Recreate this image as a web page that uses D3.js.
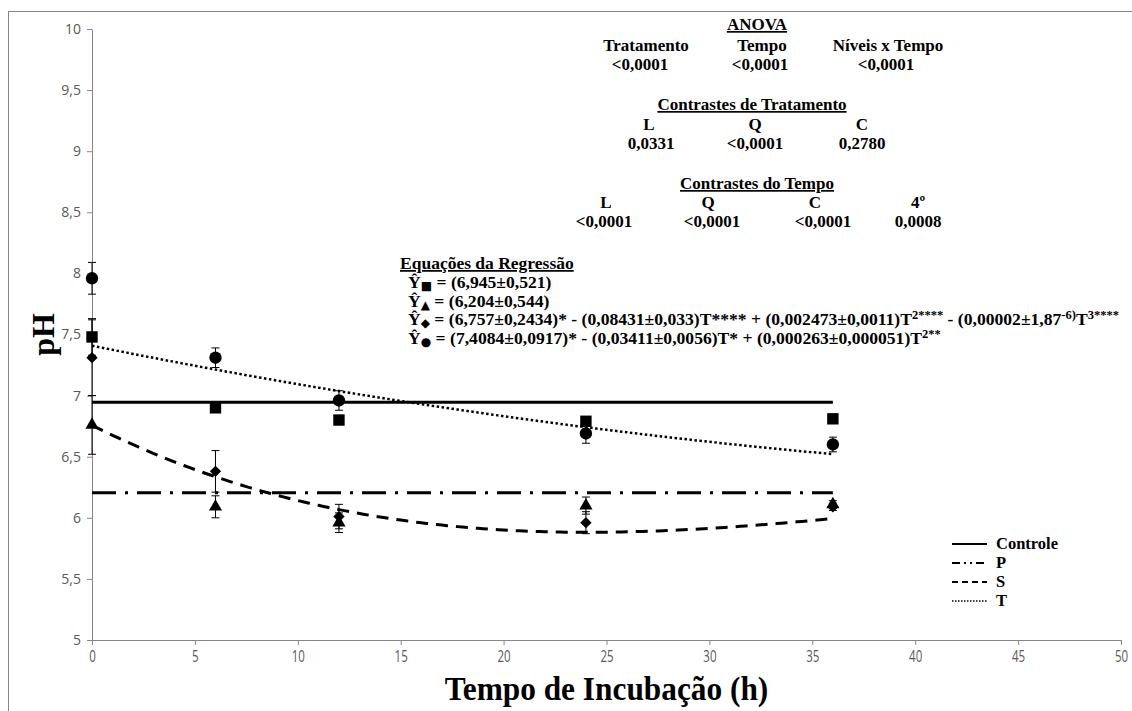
<!DOCTYPE html>
<html>
<head>
<meta charset="utf-8">
<script src="https://cdn.jsdelivr.net/npm/d3@7"></script>
<style>
  body { margin: 0; background: #fff; }
  svg { display: block; }
  .tick text { font-family: "Open Sans", sans-serif; fill: #595959; }
  .tick line, .domain { stroke: #868686; }
  .bold { font-family: "Liberation Serif", "Times New Roman", serif; font-weight: bold; fill: #000; }
</style>
</head>
<body>
<svg id="chart" width="1132" height="711"></svg>
<script>
'use strict';

// sampling times (h)
const tempo = [0, 6, 12, 24, 36];

// means and error bars
const controle = [7.48, 6.90, 6.80, 6.79, 6.81];
const controleErr = [0.15, 0.02, 0.02, 0.02, 0.02];
const tratP = [6.76, 6.09, 5.96, 6.10, 6.11];
const tratPErr = [0.24, 0.09, 0.08, 0.07, 0.03];
const tratS = [7.31, 6.38, 6.01, 5.96, 6.09];
const tratSErr = [0.31, 0.17, 0.10, 0.09, 0.03];
const tratT = [7.96, 7.31, 6.96, 6.69, 6.60];
const tratTErr = [0.13, 0.08, 0.08, 0.08, 0.06];

// regression coefficients printed on the chart (b0, b1, b2, b3)
const coefControle = [6.945];
const coefP = [6.204];
const coefS = [6.757, -0.08431, 0.002473, -0.00002];
const coefT = [7.4084, -0.03411, 0.000263];

const xTicks = [0, 5, 10, 15, 20, 25, 30, 35, 40, 45, 50];
const yTicks = [5, 5.5, 6, 6.5, 7, 7.5, 8, 8.5, 9, 9.5, 10];
const legendLabels = ['Controle', 'P', 'S', 'T'];

const svg = d3.select('#chart');
const x = d3.scaleLinear().domain([0, 50]).range([92, 1121]);
const y = d3.scaleLinear().domain([5, 10]).range([640, 29]);
const fmt = d3.formatLocale({decimal: ',', thousands: '.', grouping: [3], currency: ['', '']}).format(',.1~f');

// chart area frame
svg.append('rect')
  .attr('x', 8.5).attr('y', 11.5)
  .attr('width', 1200).attr('height', 800)
  .attr('fill', 'none').attr('stroke', '#868686');

// axes
svg.append('g')
  .attr('transform', 'translate(' + x(0) + ',0)')
  .call(d3.axisLeft(y).tickValues(yTicks).tickFormat(fmt).tickSize(5).tickSizeOuter(0))
  .call(g => g.selectAll('.tick text').attr('x', -11).style('font-size', '14px'));
svg.append('g')
  .attr('transform', 'translate(0,' + y(5) + ')')
  .call(d3.axisBottom(x).tickValues(xTicks).tickSize(5).tickSizeOuter(0))
  .call(g => g.selectAll('.tick text').attr('y', 11).style('font-size', '16px')
    .attr('transform', 'scale(0.72,1)'));

// axis titles
svg.append('text').attr('class', 'bold')
  .attr('transform', 'translate(54,' + y(7.5) + ') rotate(-90)')
  .attr('text-anchor', 'middle').attr('font-size', 32)
  .text('pH');
svg.append('text').attr('class', 'bold')
  .attr('transform', 'translate(' + x(25) + ',700) scale(0.95,1)')
  .attr('text-anchor', 'middle').attr('font-size', 33)
  .text('Tempo de Incubação (h)');

// series: markers with error bars
const series = [
  {vals: controle, err: controleErr, shape: d3.symbolSquare, size: 130, rot: 0},
  {vals: tratP, err: tratPErr, shape: d3.symbolTriangle, size: 75, rot: 0},
  {vals: tratS, err: tratSErr, shape: d3.symbolSquare, size: 64, rot: 45},
  {vals: tratT, err: tratTErr, shape: d3.symbolCircle, size: 120, rot: 0}
];

series.forEach(function(s) {
  const pts = tempo.map((t, i) => ({t: t, v: s.vals[i], e: s.err[i]}));
  const g = svg.append('g');
  g.selectAll('line.bar').data(pts).enter().append('line')
    .attr('x1', d => x(d.t)).attr('x2', d => x(d.t))
    .attr('y1', d => y(d.v - d.e)).attr('y2', d => y(d.v + d.e))
    .attr('stroke', '#000').attr('stroke-width', 1);
  [-1, 1].forEach(function(sign) {
    g.selectAll(null).data(pts).enter().append('line')
      .attr('x1', d => x(d.t) - 4).attr('x2', d => x(d.t) + 4)
      .attr('y1', d => y(d.v + sign * d.e)).attr('y2', d => y(d.v + sign * d.e))
      .attr('stroke', '#000').attr('stroke-width', 1);
  });
  g.selectAll('path').data(pts).enter().append('path')
    .attr('d', d3.symbol().type(s.shape).size(s.size))
    .attr('transform', d => 'translate(' + x(d.t) + ',' + y(d.v) + ') rotate(' + s.rot + ')')
    .attr('fill', '#000');
});

// regression lines
function poly(c, t) {
  return c.reduce((acc, b, k) => acc + b * Math.pow(t, k), 0);
}
const tFit = d3.range(0, 36.001, 0.25);
const fits = [
  {coef: coefControle, dash: null, width: 3},
  {coef: coefP, dash: '24,9,3,9', width: 3},
  {coef: coefS, dash: '12,8', width: 3},
  {coef: coefT, dash: '2.5,2.5', width: 2.5}
];
const line = d3.line().x(d => x(d[0])).y(d => y(d[1]));
fits.forEach(function(f) {
  svg.append('path')
    .attr('d', line(tFit.map(t => [t, poly(f.coef, t)])))
    .attr('fill', 'none').attr('stroke', '#000')
    .attr('stroke-width', f.width)
    .attr('stroke-dasharray', f.dash);
});

// legend
const legend = svg.append('g');
legendLabels.forEach(function(lab, i) {
  const ly = 544 + i * 19;
  legend.append('line')
    .attr('x1', 952).attr('x2', 987).attr('y1', ly).attr('y2', ly)
    .attr('stroke', '#000').attr('stroke-width', fits[i].width === 3 ? 2 : 1.5)
    .attr('stroke-dasharray', i === 1 ? '8,4,2,4,2,4' : i === 2 ? '6,4' : i === 3 ? '1.5,1.5' : null);
  legend.append('text').attr('class', 'bold')
    .attr('x', 996).attr('y', ly + 5).attr('font-size', 16.5)
    .text(lab);
});

// ANOVA and contrast blocks
function label(txt, cx, cy, underline) {
  svg.append('text').attr('class', 'bold')
    .attr('x', cx).attr('y', cy + 5)
    .attr('text-anchor', 'middle').attr('font-size', 17)
    .attr('text-decoration', underline ? 'underline' : null)
    .text(txt);
}
label('ANOVA', 757, 25, true);
[['Tratamento', 646], ['Tempo', 762], ['Níveis x Tempo', 888]].forEach(d => label(d[0], d[1], 46));
[['<0,0001', 640], ['<0,0001', 760], ['<0,0001', 886]].forEach(d => label(d[0], d[1], 65));
label('Contrastes de Tratamento', 752, 105, true);
[['L', 649], ['Q', 755], ['C', 862]].forEach(d => label(d[0], d[1], 125));
[['0,0331', 651], ['<0,0001', 755], ['0,2780', 862]].forEach(d => label(d[0], d[1], 144));
label('Contrastes do Tempo', 757, 184, true);
[['L', 606], ['Q', 708], ['C', 815], ['4º', 918]].forEach(d => label(d[0], d[1], 203));
[['<0,0001', 604], ['<0,0001', 712], ['<0,0001', 823], ['0,0008', 918]].forEach(d => label(d[0], d[1], 222));

// regression equations
svg.append('text').attr('class', 'bold')
  .attr('x', 400).attr('y', 269).attr('font-size', 17.5)
  .attr('text-decoration', 'underline')
  .text('Equações da Regressão');

const equations = [
  {mark: '■', parts: [['= (6,945±0,521)', 0]]},
  {mark: '▲', parts: [['= (6,204±0,544)', 0]]},
  {mark: '◆', parts: [['= (6,757±0,2434)* - (0,08431±0,033)T**** + (0,002473±0,0011)T', 0], ['2****', 1],
                      [' - (0,00002±1,87', 0], ['-6)', 1], ['T', 0], ['3****', 1]]},
  {mark: '●', parts: [['= (7,4084±0,0917)* - (0,03411±0,0056)T* + (0,000263±0,000051)T', 0], ['2**', 1]]}
];
equations.forEach(function(eq, i) {
  const t = svg.append('text').attr('class', 'bold')
    .attr('x', 408).attr('y', 288 + i * 18.5).attr('font-size', 17.6);
  t.append('tspan').text('Ŷ');
  t.append('tspan').attr('font-family', 'DejaVu Sans').attr('font-size', 12).attr('dy', 2).text(eq.mark);
  t.append('tspan').attr('dy', -2).text(' ');
  let up = false;
  eq.parts.forEach(function(p) {
    const ts = t.append('tspan').text(p[0]);
    if (p[1] && !up) { ts.attr('dy', -6).attr('font-size', 12.5); up = true; }
    else if (p[1]) { ts.attr('font-size', 12.5); }
    else if (up) { ts.attr('dy', 6); up = false; }
  });
});
</script>
</body>
</html>
